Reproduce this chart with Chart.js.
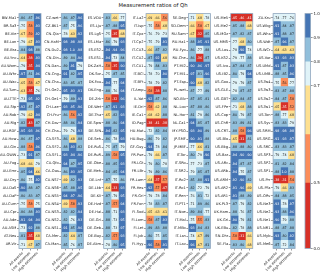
<!DOCTYPE html>
<html><head><meta charset="utf-8">
<script src="https://cdn.jsdelivr.net/npm/chart.js@4.4.1/dist/chart.umd.min.js"></script>
<style>
html,body{margin:0;padding:0;background:#fff;width:320px;height:272px;overflow:hidden;}
#wrap{position:relative;width:320px;height:272px;}
canvas{position:absolute;top:0;}
#title{position:absolute;top:1.5px;left:0;width:306px;text-align:center;font-family:"DejaVu Sans";font-size:5.3px;line-height:6px;color:#111;}
</style></head><body>
<div id="wrap"><div id="title">Measurement ratios of Qh</div></div>
<script>
// ---------------- data ----------------
const columns = ["All events", "Low extremes", "High extremes"];

const sites1 = ["BW-Ma1","BR-Sa3","BE-Vie","BE-Lon","BE-Bra","AU-Ync","AU-Wom","AU-Whr","AU-Wac","AU-Tum","AU-TTE","AU-Stp","AU-Rob","AU-Rig","AU-RDF","AU-How","AU-Gin","AU-GWW","AU-Fog","AU-Emr","AU-Dry","AU-DaS","AU-DaP","AU-Cum","AU-Cpr","AU-Ade","AU-ASM","AT-Neu","AR-Vir"];
const all1  = [.86,.75,.67,.79,.84,.64,.79,.97,.65,.63,.73,.92,.79,.82,.95,.86,.88,.73,.68,.85,.80,.90,.80,.75,.86,.91,.73,.81,.71];
const low1  = [.87,.58,.59,.67,.98,.38,.35,.81,.58,.35,.95,.87,.62,.43,.93,.87,.58,.91,.66,.94,.75,.88,.83,.58,.88,.94,.92,.35,.67];
const high1 = [.96,.93,.92,.93,.88,.93,.94,.96,.67,.76,.92,.97,.94,.87,.96,.97,.96,.87,.79,.66,.92,.87,.87,.75,.93,.94,.88,.68,.87];

const sites2 = ["CZ-wet","CZ-BK1","CN-Qia","CN-HaM","CN-Du2","CN-Din","CN-Dan","CN-Cng","CN-Cha","CH-Oe2","CH-Oe1","CH-Lae","CH-Fru","CH-Dav","CH-Cha","CA-SF3","CA-SF2","CA-SF1","CA-Qfo","CA-Oas","CA-NS7","CA-NS6","CA-NS5","CA-NS4","CA-NS3","CA-NS2","CA-NS1","CA-Mer","CA-Man"];
const all2  = [.86,.87,.78,.98,.98,.89,.89,.91,.83,.95,.79,.93,.86,.88,.79,.86,.88,.93,.94,.86,.69,.85,.94,.69,.82,.82,.91,.82,.85];
const low2  = [.87,.75,.63,.98,1.0,.84,.91,.82,.85,.93,.89,.95,.56,.86,.76,.68,.93,.94,.87,.93,.82,.88,.97,.58,.82,.76,.85,.64,.76];
const high2 = [.96,.96,.92,.98,.98,.96,.79,.95,.87,.91,.93,.96,.92,.94,.93,.88,.82,.96,.95,.95,.93,.95,.96,.93,.94,.93,.96,.87,.87];

const sites3 = ["ES-VDA","ES-LJu","ES-LgS","ES-LMa","ES-ES2","ES-ES1","DK-ZaH","DK-Sor","DK-Fou","DK-Eng","DE-Zrk","DE-Wet","DE-Tha","DE-Spw","DE-SfN","DE-Seh","DE-RuS","DE-RuR","DE-Obe","DE-Meh","DE-Lnf","DE-Lkb","DE-Kli","DE-Hzd","DE-Hai","DE-Gri","DE-Geb","DE-Bay","DE-Akm"];
const all3  = [.83,.87,.75,.86,.94,.94,.58,.75,.94,.88,.58,.87,.65,.88,.94,.86,.75,.89,.88,.84,.87,.64,.87,.87,.88,.88,.88,.82,.78];
const low3  = [.66,.88,.35,.79,.94,.73,.35,.87,.77,.76,.32,.91,.82,.80,.82,.78,.87,.58,.85,.85,.75,.33,.79,.57,.71,.73,.73,.57,.80];
const high3 = [.77,.95,.68,.93,.96,.84,.90,.85,.94,.94,.96,.93,.93,.94,.95,.93,.79,.95,.93,.94,.86,.93,.95,.94,.93,.95,.97,.93,.95];

const sites4 = ["IT-La2","IT-Isp","IT-Cpz","IT-Cp2","IT-CA3","IT-CA2","IT-CA1","IT-BCi","IT-BFt","IT-Amp","IL-Yat","IE-Dri","IE-Ca1","ID-Pag","HU-Mat","HU-Bug","GF-Guy","FR-Pue","FR-LGt","FR-LBr","FR-Lam","FR-Hes","FR-Gri","FR-Fon","FI-Sod","FI-Lom","FI-Let","FI-Jok","FI-Hyy"];
const all4  = [.69,.75,.76,.75,.66,.87,.79,.78,.78,.58,.92,.58,.68,.38,.72,.86,.94,.79,.79,.79,.64,.92,.79,.78,.65,.58,.89,.80,.96];
const low4  = [.66,.58,.79,.79,.87,.92,.84,.70,.79,.38,.87,.62,.62,.41,.82,.79,.78,.66,.80,.89,.37,.57,.78,.83,.63,.87,.83,.75,.58];
const high4 = [.56,.68,.73,.91,.82,.68,.83,.90,.82,.88,.86,.88,.88,.38,.84,.82,.84,.87,.78,.86,.57,.47,.84,.87,.61,.93,.88,.85,.91];

const sites5 = ["SE-Deg","SD-Dem","RU-Sam","RU-Ha1","RU-Fyo","RU-Che","PT-Mi2","PT-Mi1","PT-Esp","PL-wet","NO-Blv","NL-Loo","NL-Hor","NL-Ca1","MY-PSO","JP-SMF","JP-MBF","IT-Tor","IT-SRo","IT-SR2","IT-Ro2","IT-Ro1","IT-Ren","IT-PT1","IT-Noe","IT-Mal","IT-MBo","IT-Lsn","IT-Lav"];
const all5  = [.71,.66,.67,.88,.86,.86,.90,.97,.90,.87,.87,.87,.81,.94,.93,.90,.77,.80,.77,.79,.85,.82,.76,.71,.89,.75,.93,.74,.96];
const low5  = [.68,.58,.32,.95,.77,.36,.96,.81,.68,.77,.85,.88,.79,.85,.90,.91,.66,.79,.73,.85,.88,.72,.81,.89,.84,.55,.84,.67,.67];
const high5 = [.78,.67,.85,.91,.88,.87,.97,.96,.82,.89,.81,.86,.86,.87,.89,.88,.81,.96,.87,.87,.91,.79,.72,.86,.77,.83,.83,.89,.81];

const sites6 = ["US-Me5","US-Me2","US-MOz","US-MMS","US-Los","US-KS2","US-Ivo","US-IB2","US-Goo","US-GLE","US-GBT","US-FPe","US-Cop","US-ChR","US-CRT","US-Blo","US-Bkg","US-Bar","US-ARc","US-ARb","US-ARM","US-AR2","US-AR1","UK-PL3","UK-Ham","UK-Gri","UK-EBu","SN-Dhr","SE-Fla"];
const all6  = [.45,.85,.87,.77,.78,.79,.87,.80,.79,.78,.82,.71,.80,.83,.88,.65,.88,.94,.94,.94,.92,.91,.91,.87,.88,.90,.82,.58,.83];
const low6  = [.46,.88,.82,.68,.90,.77,.84,.79,.79,.87,.84,.68,.79,.89,.58,.31,.88,.90,.87,.75,.90,.96,.88,.79,.76,.79,.78,.31,.80];
const high6 = [.41,.68,.87,.80,.74,.88,.87,.94,.87,.87,.87,.88,.87,.81,.96,.81,.80,.90,.87,.87,.82,.69,.89,.82,.87,.81,.88,.66,.68];

const sites7 = ["ZA-Kru","US-Wkg","US-Whs","US-Wdt","US-WCr","US-Var","US-UMd","US-UMB","US-Tw4","US-Tw3","US-Tw2","US-Tw1","US-Ton","US-Syv","US-SRM","US-SRG","US-SRC","US-SP3","US-SP2","US-SP1","US-Prr","US-PFa","US-ORv","US-Ne3","US-Ne2","US-Ne1","US-NR1","US-Myb","US-Me6"];
const all7  = [.74,.91,.91,.87,.64,.93,.91,.88,.75,.83,.84,.65,.88,.83,.98,.91,.83,.79,.81,.88,.38,.79,.84,.93,.93,.90,.88,.93,.87];
const low7  = [.77,.84,.88,.96,.63,.93,.87,.85,.56,.87,.87,.35,.77,.83,.98,.93,.83,.74,.82,1.0,.31,.66,.88,.78,.88,.79,.87,.80,.72];
const high7 = [.76,.87,.87,.87,.63,.93,.93,.96,.77,.88,.58,.52,.68,.79,.98,.97,.87,.68,.84,.88,.54,.83,.85,.97,.96,.88,.88,.92,.84];

// colour classes (upper edges) and colour bar ticks
const classEdges  = [0.5, 0.6, 0.7, 0.8, 0.9];
const classColors = ["#d73027","#fc8d59","#fee090","#e0f3f8","#91bfdb","#4575b4"];
const cbBounds = [0.0, 0.5, 0.6, 0.7, 0.8, 0.9, 1.0];
const cbTicks  = [0.0, 0.5, 0.7, 0.8, 0.9, 1.0];

// ---------------- layout / style ----------------
const FONT = "DejaVu Sans";
Chart.defaults.font.family = FONT;
const TOP = 13.6, BOTTOM = 248.5, H = 272;
const HEAT_W = 22, LABEL_W = 20, FIRST_LEFT = 19, STEP = 42.35;
const FRAME = "#8fa6be";

function colorOf(v){ let i = 0; while (i < classEdges.length && v >= classEdges[i]) i++; return classColors[i]; }
function textColorOf(v){ return (v >= 0.9 || v < 0.5) ? "#ffffff" : "#1a1a1a"; }
function fmt(v){ return v >= 1 ? v.toFixed(1) : v.toFixed(2).slice(1); }

const cellText = {
  id: "cellText",
  afterDatasetsDraw(chart){
    const ctx = chart.ctx; ctx.save();
    ctx.font = "3.3px '" + FONT + "'"; ctx.textAlign = "center"; ctx.textBaseline = "middle";
    chart.data.datasets.forEach((ds, j) => {
      chart.getDatasetMeta(j).data.forEach((el, i) => {
        const v = ds.values[i];
        ctx.fillStyle = textColorOf(v);
        ctx.fillText(fmt(v), (el.x + el.base) / 2, el.y + 0.2);
      });
    });
    ctx.restore();
  }
};
const frame = {
  id: "frame",
  afterDraw(chart){
    const a = chart.chartArea, ctx = chart.ctx; ctx.save();
    ctx.strokeStyle = FRAME; ctx.lineWidth = 0.8;
    ctx.strokeRect(a.left, a.top, a.right - a.left, a.bottom - a.top);
    ctx.restore();
  }
};

const wrap = document.getElementById("wrap");
function addCanvas(left, width){
  const cv = document.createElement("canvas");
  cv.width = width; cv.height = H;
  cv.style.left = left + "px"; cv.style.width = width + "px"; cv.style.height = H + "px";
  wrap.appendChild(cv);
  return cv;
}

const panels = [
  [sites1, [all1, low1, high1]],
  [sites2, [all2, low2, high2]],
  [sites3, [all3, low3, high3]],
  [sites4, [all4, low4, high4]],
  [sites5, [all5, low5, high5]],
  [sites6, [all6, low6, high6]],
  [sites7, [all7, low7, high7]]
];

panels.forEach(([sites, cols], k) => {
  const heatLeft = FIRST_LEFT + STEP * k;
  const cvLeft = Math.floor(heatLeft - LABEL_W);
  const padL = heatLeft - LABEL_W - cvLeft;
  const width = Math.ceil(padL + LABEL_W + HEAT_W) + 2;
  const padR = width - (padL + LABEL_W + HEAT_W);
  const cv = addCanvas(cvLeft, width);
  new Chart(cv, {
    type: "bar",
    data: {
      labels: sites,
      datasets: cols.map((vals, j) => ({
        label: columns[j],
        data: vals.map(() => 1),
        values: vals,
        backgroundColor: vals.map(colorOf),
        borderWidth: 0,
        barPercentage: 1,
        categoryPercentage: 1
      }))
    },
    options: {
      indexAxis: "y", responsive: false, animation: false, devicePixelRatio: 1, events: [],
      layout: { padding: { top: TOP, left: padL, right: padR, bottom: 0 } },
      plugins: { legend: { display: false }, tooltip: { enabled: false }, title: { display: false } },
      scales: {
        x: {
          type: "linear", stacked: true, min: 0, max: 3,
          afterBuildTicks: s => { s.ticks = [0.5, 1.5, 2.5].map(v => ({ value: v })); },
          afterFit: s => { s.height = H - BOTTOM; },
          ticks: { autoSkip: false, minRotation: 45, maxRotation: 45, padding: 0.5,
                   color: "#222", font: { size: 3.6 }, callback: v => columns[Math.floor(v)] },
          grid: { display: true, drawOnChartArea: false, drawTicks: true, tickLength: 2, color: "#333", lineWidth: 0.5 },
          border: { display: false }
        },
        y: {
          type: "category", stacked: true,
          afterFit: s => { s.width = LABEL_W; },
          ticks: { autoSkip: false, padding: 0.6, color: "#222", font: { size: 3.6 } },
          grid: { display: true, offset: false, drawOnChartArea: false, drawTicks: true, tickLength: 2, color: "#333", lineWidth: 0.5 },
          border: { display: false }
        }
      }
    },
    plugins: [cellText, frame]
  });
});

// ---------------- colour bar ----------------
const knotValues = [0.0, 0.5, 0.7, 0.8, 0.9, 1.0];
const knotFracs  = [0.0, 0.278, 0.692, 0.795, 0.897, 1.0];
function toFrac(v){
  for (let i = 1; i < knotValues.length; i++) {
    if (v <= knotValues[i]) {
      const t = (v - knotValues[i-1]) / (knotValues[i] - knotValues[i-1]);
      return knotFracs[i-1] + t * (knotFracs[i] - knotFracs[i-1]);
    }
  }
  return 1;
}
class PiecewiseScale extends Chart.LinearScale {
  getPixelForValue(v){ return this.getPixelForDecimal(toFrac(v)); }
  getValueForPixel(p){
    const f = this.getDecimalForPixel(p);
    for (let i = 1; i < knotFracs.length; i++) {
      if (f <= knotFracs[i]) {
        const t = (f - knotFracs[i-1]) / (knotFracs[i] - knotFracs[i-1]);
        return knotValues[i-1] + t * (knotValues[i] - knotValues[i-1]);
      }
    }
    return 1;
  }
}
PiecewiseScale.id = "piecewise";
PiecewiseScale.defaults = Chart.LinearScale.defaults;
Chart.register(PiecewiseScale);

(function(){
  const cvLeft = 290, width = 30, barL = 15, barW = 5.6;
  const cv = addCanvas(cvLeft, width);
  const segs = cbBounds.slice(0, -1).map((lo, i) => [lo, cbBounds[i + 1]]);
  new Chart(cv, {
    type: "bar",
    data: {
      labels: [""],
      datasets: segs.map((s, i) => ({
        data: [s], backgroundColor: classColors[i], borderWidth: 0,
        barPercentage: 1, categoryPercentage: 1, grouped: false
      }))
    },
    options: {
      responsive: false, animation: false, devicePixelRatio: 1, events: [],
      layout: { padding: { top: TOP, left: barL, right: 0, bottom: H - BOTTOM } },
      plugins: { legend: { display: false }, tooltip: { enabled: false } },
      scales: {
        x: { display: false },
        y: {
          type: "piecewise", position: "right", min: 0, max: 1,
          afterBuildTicks: s => { s.ticks = cbTicks.map(v => ({ value: v })); },
          afterFit: s => { s.width = width - barL - barW; },
          ticks: { autoSkip: false, padding: 0.8, color: "#222", font: { size: 4 }, callback: v => Number(v).toFixed(1) },
          grid: { display: true, drawOnChartArea: false, drawTicks: true, tickLength: 2, color: "#333", lineWidth: 0.5 },
          border: { display: false }
        }
      }
    },
    plugins: [frame]
  });
})();
</script>
</body></html>
